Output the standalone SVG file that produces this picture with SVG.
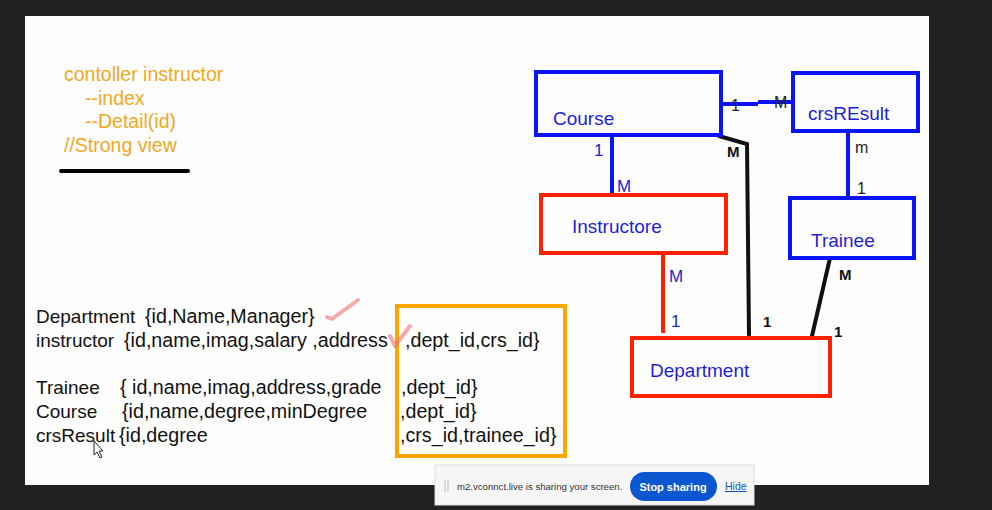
<svg xmlns="http://www.w3.org/2000/svg" width="992" height="510" viewBox="0 0 992 510">
<style>
.bg{fill:#222222}
.slide{fill:#fefefe}
.bbox{fill:none;stroke:#0a14f5;stroke-width:4}
.rbox{fill:none;stroke:#ff2200;stroke-width:4}
.lbl{font-family:"Liberation Sans",Arial,sans-serif;font-size:19px;fill:#1e1ed8}
.org{font-family:"Liberation Sans",Arial,sans-serif;font-size:19.5px;fill:#f5a623}
.txt{font-family:"Liberation Sans",Arial,sans-serif;font-size:19px;fill:#111}
.w{font-size:19.7px}
.card{font-family:"Liberation Sans",Arial,sans-serif;font-size:16px;fill:#222}
.cardb{font-family:"Liberation Sans",Arial,sans-serif;font-size:15px;font-weight:bold;fill:#111}
.cardblue{font-family:"Liberation Sans",Arial,sans-serif;font-size:17px;fill:#1e1ed8}
.blk{fill:none;stroke:#141010;stroke-width:4;stroke-linecap:round}
.bline{fill:none;stroke:#0a14f5;stroke-width:4}
.rline{fill:none;stroke:#ff2200;stroke-width:4}
.tick{fill:none;stroke:#f07070;stroke-width:4;stroke-linecap:round;stroke-linejoin:round;opacity:0.6}
</style>
<rect class="bg" x="0" y="0" width="992" height="510"/>
<rect class="slide" x="25" y="16" width="904" height="469"/>

<g id="notes">
<text class="org" x="64" y="81">contoller instructor</text>
<text class="org" x="85" y="105">--index</text>
<text class="org" x="85" y="128">--Detail(id)</text>
<text class="org" x="64" y="152">//Strong view</text>
<line x1="61" y1="171" x2="188" y2="171" stroke="#000" stroke-width="4" stroke-linecap="round"/>
</g>

<g id="schema">
<text class="txt" y="323"><tspan x="36">Department</tspan><tspan class="w" x="145">{id,Name,Manager}</tspan></text>
<text class="txt" y="347"><tspan x="36">instructor</tspan><tspan class="w" x="124">{id,name,imag,salary ,address</tspan><tspan class="w" x="405">,dept_id,crs_id}</tspan></text>
<text class="txt" y="394"><tspan x="36">Trainee</tspan><tspan class="w" x="120">{ id,name,imag,address,grade</tspan><tspan class="w" x="401">,dept_id}</tspan></text>
<text class="txt" y="418"><tspan x="36">Course</tspan><tspan class="w" x="122">{id,name,degree,minDegree</tspan><tspan class="w" x="400">,dept_id}</tspan></text>
<text class="txt" y="442"><tspan x="36">crsResult</tspan><tspan class="w" x="119">{id,degree</tspan><tspan class="w" x="400">,crs_id,trainee_id}</tspan></text>
<rect x="397" y="306" width="168" height="150" fill="none" stroke="#ffa500" stroke-width="4"/>
<path class="tick" d="M327 317 L332 319 L358 300"/>
<path class="tick" d="M390 336 L395 346 L410 326"/>
<path d="M94 441 L94 455 L97 452 L100 458 L102 457 L99 451 L103 451 Z" fill="#fff" stroke="#222" stroke-width="1"/>
</g>

<g id="connectors">
<path class="bline" d="M723 104 H758 M758 102 H791"/>
<text class="card" x="731" y="111">1</text>
<text class="card" x="774" y="108">M</text>
<path class="bline" d="M612 137 V193"/>
<text class="cardblue" x="594" y="156">1</text>
<text class="cardblue" x="617" y="192">M</text>
<path class="bline" d="M848 133 V196"/>
<text class="card" x="855" y="153">m</text>
<text class="card" x="857" y="194">1</text>
<path class="rline" d="M663 255 V333"/>
<text class="cardblue" x="669" y="282">M</text>
<text class="cardblue" x="671" y="327">1</text>
<path class="blk" d="M719 136 L747 144 L749 335"/>
<text class="cardb" x="727" y="157">M</text>
<text class="cardb" x="763" y="327">1</text>
<path class="blk" d="M830 258 L812 336"/>
<text class="cardb" x="839" y="280">M</text>
<text class="cardb" x="834" y="337">1</text>
</g>

<g id="course">
<rect class="bbox" x="536" y="72" width="185" height="63"/>
<text class="lbl" x="553" y="125">Course</text>
</g>
<g id="crsresult">
<rect class="bbox" x="793" y="73" width="125" height="58"/>
<text class="lbl" x="808" y="120">crsREsult</text>
</g>
<g id="instructore">
<rect class="rbox" x="541" y="195" width="185" height="58"/>
<text class="lbl" x="572" y="233">Instructore</text>
</g>
<g id="trainee">
<rect class="bbox" x="790" y="198" width="124" height="60"/>
<text class="lbl" x="811" y="247">Trainee</text>
</g>
<g id="department">
<rect class="rbox" x="632" y="338" width="198" height="58"/>
<text class="lbl" x="650" y="377">Department</text>
</g>

<g id="sharebar">
<rect x="435" y="465" width="319" height="40" fill="#f6f6f6" stroke="#dcdcdc" stroke-width="1"/>
<path d="M445 480 V492 M448 480 V492" stroke="#bbb" stroke-width="1"/>
<text x="457" y="490" font-family="Liberation Sans,Arial,sans-serif" font-size="9.6px" fill="#333">m2.vconnct.live is sharing your screen.</text>
<rect x="630" y="472" width="87" height="29" rx="14.5" fill="#0b57d0"/>
<text x="673" y="491" text-anchor="middle" font-family="Liberation Sans,Arial,sans-serif" font-size="11px" font-weight="bold" fill="#fff">Stop sharing</text>
<text x="725" y="490" font-family="Liberation Sans,Arial,sans-serif" font-size="10.5px" fill="#0b57d0" text-decoration="underline">Hide</text>
</g>
</svg>
